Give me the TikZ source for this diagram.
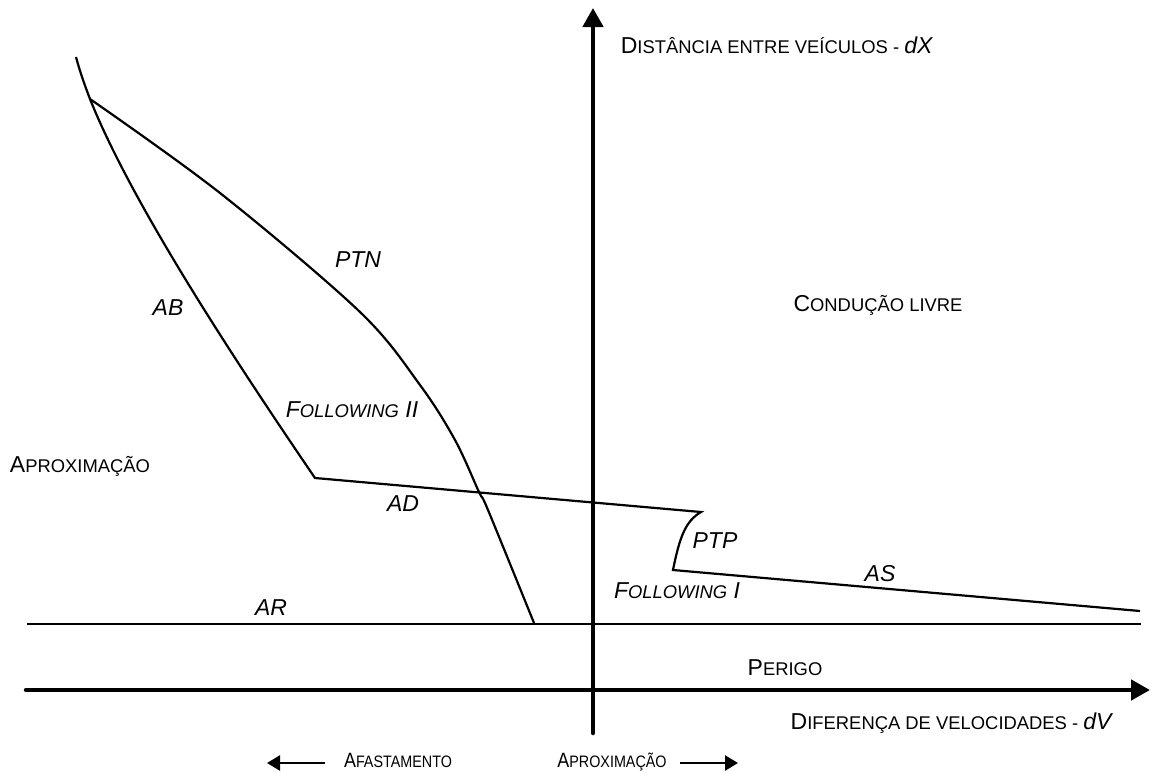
\documentclass[tikz,border=0pt]{standalone}
\usepackage{fontspec}
\setmainfont{Liberation Sans}
\usetikzlibrary{arrows.meta}
% sizes for the hand-made small capitals
\newcommand\Lg{\fontsize{23}{26}\selectfont}
\newcommand\Sm{\fontsize{18.4}{22}\selectfont}
\newcommand\scap[2]{{\Lg #1}{\Sm #2}}
\begin{document}
\begin{tikzpicture}[x=1pt,y=-1pt,
  lbl/.style={inner sep=0pt,anchor=base,font=\Lg},
  ilbl/.style={inner sep=0pt,anchor=base,font=\Lg\itshape},
  hint/.style={inner sep=0pt,anchor=base,font=\Lg,xscale=0.78,yscale=0.9},
  axis/.style={line width=4.5pt,line cap=round,-{Triangle[length=19pt,width=20pt]}},
  dirarrow/.style={line width=2.5pt,-{Triangle[length=13pt,width=15pt]}},
  curve/.style={line width=2.2pt,line join=miter}]
\useasboundingbox (0,0) rectangle (1156,771);

% axes
\coordinate (vbot) at (593,733);
\coordinate (vtop) at (593,8);
\coordinate (hleft) at (26,690);
\coordinate (hright) at (1150,690);
\draw[axis] (vbot) -- (vtop);
\draw[axis] (hleft) -- (hright);

% AR boundary
\coordinate (arl) at (27,624);
\coordinate (arr) at (1141,624);
\draw[curve] (arl) -- (arr);

% AB, AD, PTP and AS thresholds
\coordinate (abtop) at (76,57);
\coordinate (abknee) at (90,99);
\coordinate (abbot) at (315,478);
\coordinate (adend) at (701,512);
\coordinate (ptpend) at (673,570);
\coordinate (asend) at (1140,611);
\draw[curve] (abtop) .. controls (80,72) and (85,86) .. (abknee)
  .. controls (130,199) and (225,346) .. (abbot)
  -- (adend) .. controls (686,521) and (680,535) .. (ptpend) -- (asend);

% PTN threshold
\coordinate (ptnbot) at (534,623);
\draw[curve] plot[smooth,tension=0.55] coordinates
  {(90,99) (220,193) (360,312) (420,385) (455,440) (479,492) (488,510) (534,623)};

% region and threshold labels
\node[lbl] (ydesc) at (777,53) {\scap{D}{ISTÂNCIA ENTRE VEÍCULOS - }\textit{dX}};
\node[lbl] (xdesc) at (952,729) {\scap{D}{IFERENÇA DE VELOCIDADES - }\textit{dV}};
\node[lbl] (free) at (878,311) {\scap{C}{ONDUÇÃO LIVRE}};
\node[lbl] (approach) at (80,472) {\scap{A}{PROXIMAÇÃO}};
\node[lbl] (danger) at (785,675) {\scap{P}{ERIGO}};
\node[ilbl] (ptn) at (358,267) {PTN};
\node[ilbl] (ab) at (168,315) {AB};
\node[ilbl] (f2) at (352,417) {\scap{F}{OLLOWING} II};
\node[ilbl] (ad) at (403,511) {AD};
\node[ilbl] (ptp) at (715,548) {PTP};
\node[ilbl] (f1) at (677,598) {\scap{F}{OLLOWING} I};
\node[ilbl] (as) at (880,581) {AS};
\node[ilbl] (ar) at (271,615) {AR};

% direction hints under the axis
\node[hint] (away) at (398,767) {\scap{A}{FASTAMENTO}};
\node[hint] (closer) at (612,767) {\scap{A}{PROXIMAÇÃO}};
\coordinate (awayfrom) at (325,763);
\coordinate (awayto) at (267,763);
\coordinate (closefrom) at (680,763);
\coordinate (closeto) at (738,763);
\draw[dirarrow] (awayfrom) -- (awayto);
\draw[dirarrow] (closefrom) -- (closeto);
\end{tikzpicture}
\end{document}
